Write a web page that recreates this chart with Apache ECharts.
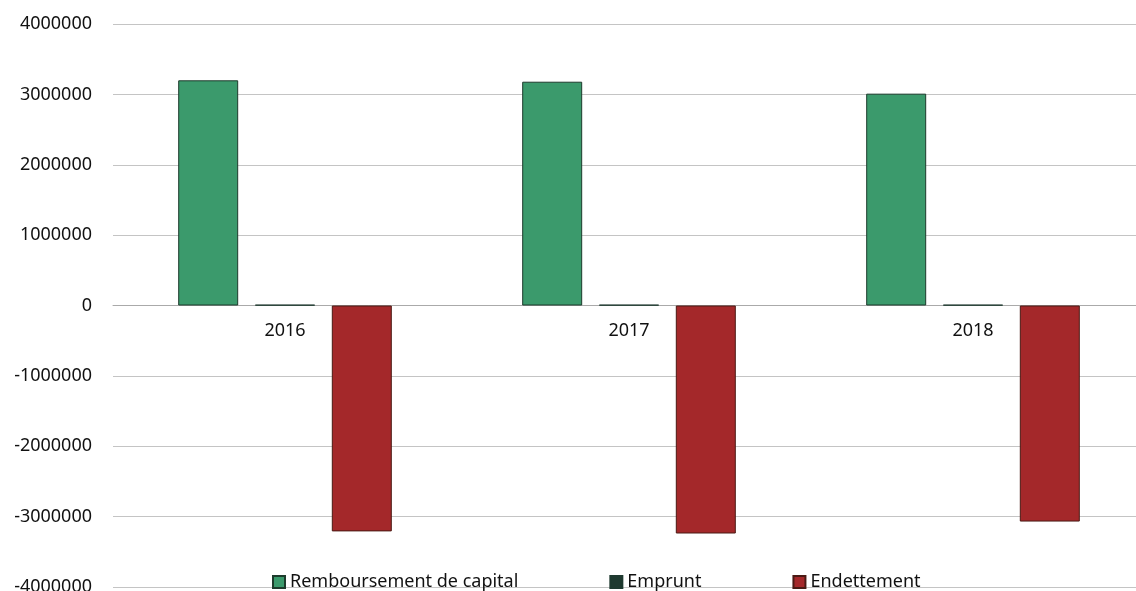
<!DOCTYPE html>
<html>
<head>
<meta charset="utf-8">
<script src="https://cdn.jsdelivr.net/npm/echarts@6/dist/echarts.min.js"></script>
<style>html,body{margin:0;padding:0;background:#fff;}#c{width:1136px;height:591px;}</style>
</head>
<body>
<div id="c"></div>
<script>
const categories = ['2016', '2017', '2018'];
const seriesNames = ['Remboursement de capital', 'Emprunt', 'Endettement'];
const remboursement = [3200000, 3180000, 3010000];
const emprunt = [10000, 10000, 10000];
const endettement = [-3210000, -3240000, -3070000];
const yTicks = { min: -4000000, max: 4000000, interval: 1000000 };

const chart = echarts.init(document.getElementById('c'));
const font = 'Noto Sans';
chart.setOption({
  animation: false,
  grid: { left: 113, right: -9, top: 24, bottom: 4, containLabel: false, outerBoundsMode: 'none' },
  legend: {
    left: 272, top: 573, padding: 0, itemGap: 91, itemWidth: 12, itemHeight: 12,
    icon: 'rect',
    textStyle: { fontFamily: font, fontSize: 18, color: '#111' },
    data: seriesNames
  },
  xAxis: {
    type: 'category', data: categories, position: 'bottom', offset: -282,
    axisLine: { onZero: false, lineStyle: { color: '#aaa' } },
    axisTick: { show: false },
    axisLabel: { margin: 17, fontFamily: font, fontSize: 18, color: '#111' }
  },
  yAxis: {
    type: 'value', min: yTicks.min, max: yTicks.max, interval: yTicks.interval,
    axisLine: { show: false }, axisTick: { show: false },
    axisLabel: { margin: 21, fontFamily: font, fontSize: 18, color: '#111', formatter: v => String(v) },
    splitLine: { lineStyle: { color: '#c4c4c4', width: 1 } }
  },
  series: [
    { name: seriesNames[0], type: 'bar', data: remboursement, barWidth: 60, barGap: '28%',
      itemStyle: { color: '#3b9a6c', borderColor: '#1d3b2c', borderWidth: 1 } },
    { name: seriesNames[1], type: 'bar', data: emprunt, barWidth: 60, barGap: '28%',
      itemStyle: { color: '#1f3a30', borderColor: '#1f3a30', borderWidth: 1 } },
    { name: seriesNames[2], type: 'bar', data: endettement, barWidth: 60, barGap: '28%',
      itemStyle: { color: '#a4282a', borderColor: '#4a1a14', borderWidth: 1 } }
  ]
});
</script>
</body>
</html>
